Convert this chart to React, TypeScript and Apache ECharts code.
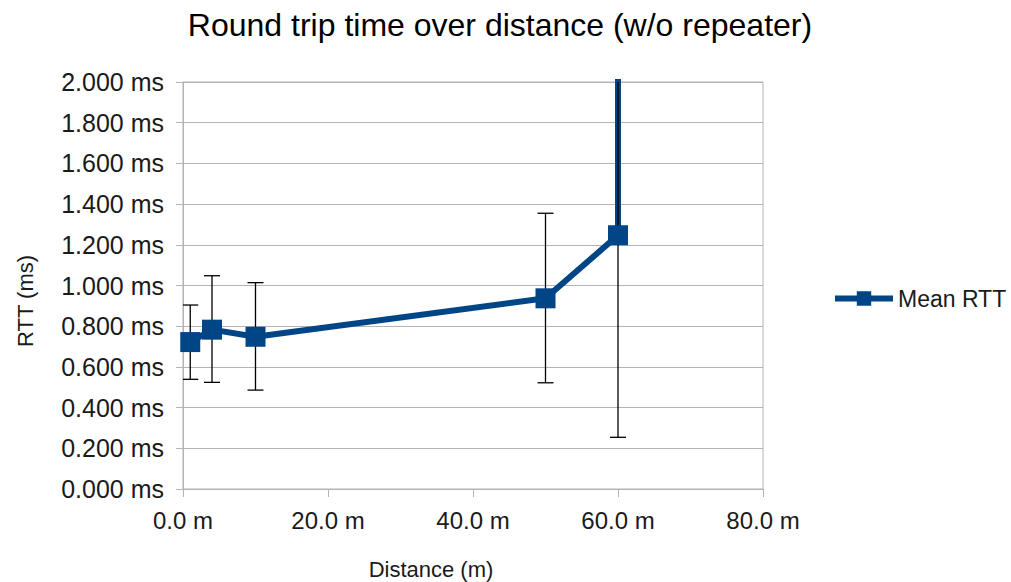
import React, { useEffect, useRef } from "react";
import * as echarts from "echarts";

const distances = [1, 4, 10, 50, 60, 60];
const meanRtt = [0.722, 0.783, 0.748, 0.937, 1.247, 4.0];
const errLow = [0.539, 0.524, 0.486, 0.522, 0.254, null];
const errHigh = [0.904, 1.048, 1.014, 1.355, 2.24, null];
const titleText = "Round trip time over distance (w/o repeater)";
const xName = "Distance (m)";
const yName = "RTT (ms)";
const seriesName = "Mean RTT";

const FONT = "'Liberation Sans', Arial, sans-serif";
const BLUE = "#004586";
const GRID = "#b3b3b3";
const TEXT = "#1a1a1a";

export default function App() {
  const ref = useRef<HTMLDivElement>(null);
  useEffect(() => {
    const chart = echarts.init(ref.current!, null, { renderer: "svg" });
    const lineData = distances.map((d, i) => [d, meanRtt[i]]);
    const errData = distances
      .map((d, i) => [d, errLow[i], errHigh[i]])
      .filter((r) => r[1] != null);
    chart.setOption({
      animation: false,
      textStyle: { fontFamily: FONT },
      grid: {
        left: 183,
        right: 248,
        top: 82,
        bottom: 93,
        show: true,
        borderColor: GRID,
        borderWidth: 1,
      },
      graphic: [
        {
          type: "text",
          x: 500,
          y: 25,
          style: {
            text: titleText,
            font: `32px ${FONT}`,
            fill: "#000",
            textAlign: "center",
            textVerticalAlign: "middle",
          },
        },
        {
          type: "text",
          x: 431,
          y: 569,
          style: {
            text: xName,
            font: `22px ${FONT}`,
            fill: TEXT,
            textAlign: "center",
            textVerticalAlign: "middle",
          },
        },
        {
          type: "text",
          x: 25,
          y: 301,
          rotation: Math.PI / 2,
          style: {
            text: yName,
            font: `22px ${FONT}`,
            fill: TEXT,
            textAlign: "center",
            textVerticalAlign: "middle",
          },
        },
      ],
      legend: {
        data: [seriesName],
        orient: "vertical",
        left: 827,
        top: 282,
        itemWidth: 58,
        itemHeight: 18,
        itemGap: 8,
        lineStyle: { width: 6 },
        textStyle: { fontSize: 23, color: TEXT, fontFamily: FONT },
      },
      xAxis: {
        type: "value",
        min: 0,
        max: 80,
        interval: 20,
        axisLine: { show: true, lineStyle: { color: GRID } },
        axisTick: { show: true, length: 8, lineStyle: { color: GRID } },
        splitLine: { show: false },
        axisLabel: {
          fontSize: 24,
          color: TEXT,
          margin: 19,
          fontFamily: FONT,
          formatter: (v: number) => v.toFixed(1) + " m",
        },
      },
      yAxis: {
        type: "value",
        min: 0,
        max: 2,
        interval: 0.2,
        axisLine: { show: true, lineStyle: { color: GRID } },
        axisTick: { show: true, length: 7, lineStyle: { color: GRID } },
        splitLine: { show: true, lineStyle: { color: GRID, width: 1 } },
        axisLabel: {
          fontSize: 25,
          color: TEXT,
          margin: 19,
          fontFamily: FONT,
          formatter: (v: number) => v.toFixed(3) + " ms",
        },
      },
      series: [
        {
          name: seriesName,
          type: "line",
          data: lineData,
          symbol: "rect",
          symbolSize: 20,
          showSymbol: false,
          clip: true,
          z: 2,
          lineStyle: { color: BLUE, width: 6 },
          itemStyle: { color: BLUE },
        },
        {
          name: "err",
          type: "custom",
          data: errData,
          clip: true,
          z: 3,
          renderItem: (params: any, api: any) => {
            const cs = params.coordSys;
            const x = api.value(0);
            const lo = api.coord([x, api.value(1)]);
            const hi = api.coord([x, api.value(2)]);
            const top = Math.max(hi[1], cs.y);
            const bot = Math.min(lo[1], cs.y + cs.height);
            const half = 8;
            const children: any[] = [
              {
                type: "line",
                shape: { x1: lo[0], y1: bot, x2: lo[0], y2: top },
                style: { stroke: "#000", lineWidth: 1.3 },
              },
              {
                type: "line",
                shape: { x1: lo[0] - half, y1: lo[1], x2: lo[0] + half, y2: lo[1] },
                style: { stroke: "#000", lineWidth: 1.3 },
              },
            ];
            if (hi[1] >= cs.y) {
              children.push({
                type: "line",
                shape: { x1: hi[0] - half, y1: hi[1], x2: hi[0] + half, y2: hi[1] },
                style: { stroke: "#000", lineWidth: 1.3 },
              });
            }
            return { type: "group", children };
          },
        },
        {
          name: "markers",
          type: "scatter",
          data: lineData,
          symbol: "rect",
          symbolSize: 20,
          clip: true,
          z: 4,
          itemStyle: { color: BLUE, opacity: 1 },
        },
      ],
    });
    return () => chart.dispose();
  }, []);
  return (
    <div
      ref={ref}
      style={{ position: "fixed", left: 0, top: 0, width: 1011, height: 582, background: "#fff" }}
    />
  );
}
